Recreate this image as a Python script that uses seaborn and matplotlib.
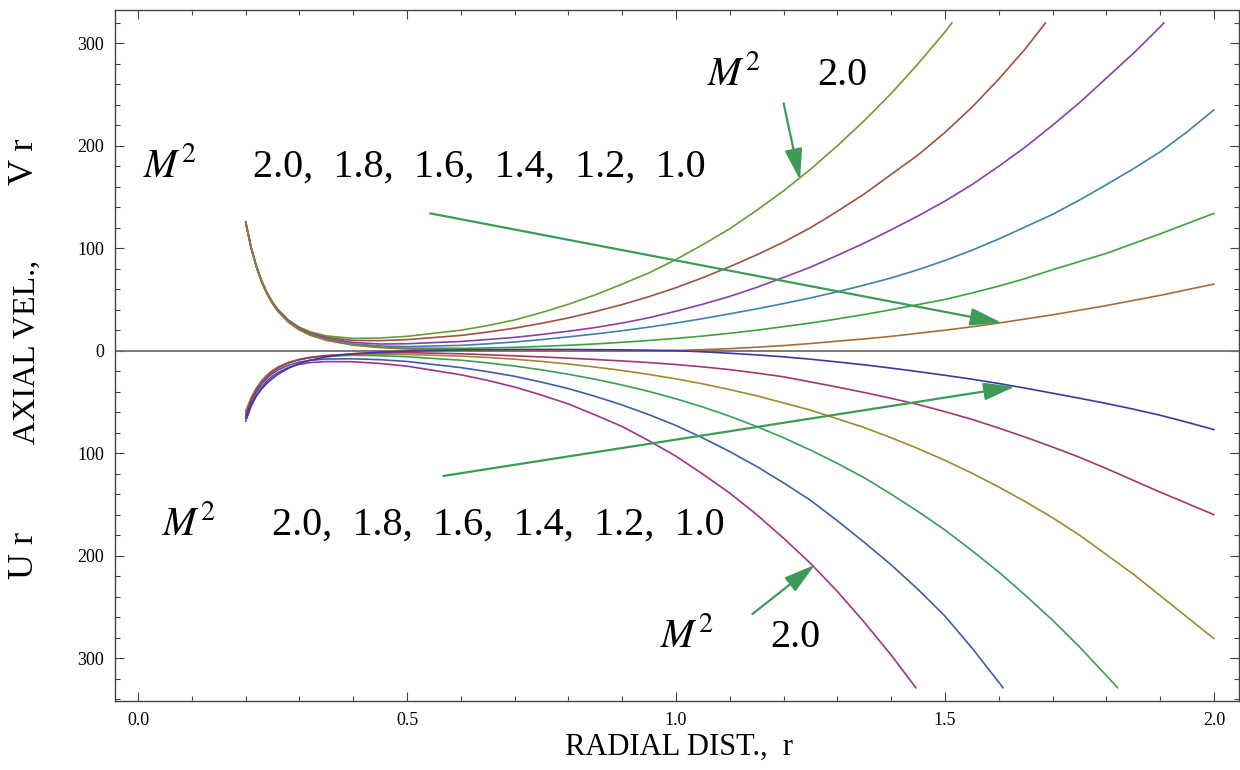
import matplotlib
matplotlib.use('Agg')
import numpy as np
import pandas as pd
import matplotlib.pyplot as plt
import seaborn as sns
from matplotlib.ticker import MultipleLocator

R = [0.20, 0.21, 0.22, 0.23, 0.24, 0.25, 0.26, 0.28, 0.30, 0.32, 0.35, 0.40, 0.45,
     0.50, 0.60, 0.65, 0.70, 0.75, 0.80, 0.85, 0.90, 0.95, 1.00, 1.05, 1.10, 1.15,
     1.20, 1.25, 1.30, 1.35, 1.40, 1.45, 1.50, 1.55, 1.60, 1.65, 1.70, 1.75, 1.80,
     1.85, 1.90, 1.95, 2.00]

# axial velocity V r (upper family), M^2 = 2.0 ... 1.0
v_20 = [126, 101.4, 82.6, 67.9, 56.5, 47.5, 40.3, 29.8, 22.9, 18.4, 14.4, 12.0, 12.4, 14.0,
        20.0, 24.5, 30.0, 37.2, 45.3, 54.5, 65, 76, 89, 103.5, 119, 137, 156,
        177, 200, 224.5, 251, 280, 311]
v_18 = [125.7, 101.1, 82.2, 67.5, 56, 47, 39.7, 29.1, 22.1, 17.4, 13.1, 10.0, 9.8, 10.8,
        14.9, 18.2, 22, 26.7, 32, 38.2, 45, 52.8, 61.5, 71.3, 82, 93.5, 106,
        120, 136, 153, 172, 191, 213, 237.5, 265, 295]
v_16 = [125.5, 100.9, 81.9, 67.2, 55.6, 46.5, 39.2, 28.4, 21.2, 16.5, 11.9, 8.0, 6.5, 6.8,
        9.0, 10.9, 13, 15.8, 19, 22.6, 27, 32.2, 38.5, 45.4, 53, 61.8, 71.5,
        81.5, 93, 105, 118, 131.5, 146, 162, 180, 199, 220, 242, 266, 290, 316]
v_14 = [125, 100.6, 81.7, 67, 55.4, 46.2, 38.9, 28.1, 20.8, 15.9, 11.1, 6.7, 4.6, 4.0,
        5.2, 6.7, 8.5, 10.8, 13.5, 16.3, 19.5, 23, 27, 31.3, 36, 40.8, 46,
        51.5, 57.5, 64, 71, 79, 88, 98, 109, 121, 133, 147, 162, 177.5, 194, 213.5, 235]
v_12 = [125, 100.5, 81.5, 66.8, 55.2, 46, 38.6, 27.8, 20.4, 15.4, 10.4, 5.8, 3.5, 2.5,
        2.3, 2.7, 3.3, 4.2, 5.3, 6.6, 8.2, 10, 12, 14.3, 17, 20, 23.5,
        27, 31, 35.3, 40, 45, 50, 56.3, 63, 70.5, 79, 87, 95, 104.5, 114, 124, 134]
v_10 = [125, 100.4, 81.4, 66.6, 55, 45.8, 38.4, 27.5, 20.1, 15.1, 10.1, 5.4, 3.0, 1.7,
        0.5, 0.2, 0, -0.2, -0.3, -0.35, -0.3, -0.1, 0.2, 1.0, 2, 3.4, 5,
        7, 9.3, 11.5, 14, 17, 20, 23.3, 27, 31, 35, 39.5, 44, 49, 54, 59.5, 65]

# U r (lower family), M^2 = 2.0 ... 1.0
u_20 = [-69, -54.5, -43.7, -35.6, -29.5, -24.8, -21.2, -16.3, -13.3, -11.6, -10.6, -10.8,
        -12.5, -15.1,
        -23.5, -29, -35.5, -43.3, -52, -62.8, -74, -88, -103, -120.5, -139, -160, -183,
        -207.5, -235, -265, -297]
u_18 = [-64.3, -50.5, -40.3, -32.6, -26.8, -22.2, -18.7, -14.1, -11.1, -9.4, -8.1, -7.9,
        -8.8, -10.5,
        -16.5, -20.5, -25, -30.7, -37, -44.6, -53, -62.5, -73, -85.2, -98.5, -113, -129,
        -146, -166, -187, -209, -233, -259, -290, -323.5]
u_16 = [-59.8, -46.6, -36.8, -29.4, -23.9, -19.5, -16.2, -11.5, -8.6, -6.7, -5.2, -4.5,
        -4.9, -5.9,
        -9.3, -11.9, -15, -18.7, -23, -27.9, -33.5, -39.8, -47, -55, -64, -74, -85,
        -97, -110, -124, -140, -157, -175, -195, -216, -239, -263, -289, -317]
u_14 = [-59, -46, -36.3, -29, -23.5, -19.3, -15.9, -11.3, -8.3, -6.4, -4.8, -3.6, -3.4, -3.7,
        -5.3, -6.6, -8.3, -10.5, -13, -16, -19.3, -23.2, -27.5, -32.4, -38, -44, -51,
        -58, -66.5, -75, -85, -95.5, -107, -119.5, -133, -147.5, -163, -180, -199, -218,
        -239, -260, -281]
u_12 = [-62, -48.1, -38, -30.5, -24.8, -20.3, -16.8, -11.9, -8.8, -6.7, -4.8, -3.0, -2.2, -1.9,
        -3.0, -4.0, -5.0, -6.1, -7.3, -8.6, -10.0, -11.6, -13.5, -15.8, -18.5, -21.8, -25.5,
        -30.5, -35.5, -40.8, -46.5, -52.5, -59.5, -67, -75.5, -84.5, -94, -104, -115,
        -126.5, -138, -149, -160]
u_10 = [-66, -53, -44, -37, -31.5, -27, -23, -17, -12.5, -9.3, -6, -3, -1.4, -0.4,
        0.8, 1.0, 1.2, 1.25, 1.2, 1.0, 0.8, 0.45, 0, -1.1, -2.5, -4.1, -6,
        -8.3, -11, -13.8, -17, -20.4, -24, -27.8, -32, -36.6, -41.5, -46.4, -51.5, -57,
        -63, -69.8, -77]

# where curves leave the plot range
ends = {'V 2.0': (1.513, 320), 'V 1.8': (1.687, 320), 'V 1.6': (1.907, 320),
        'U 2.0': (1.446, -329), 'U 1.8': (1.608, -329), 'U 1.6': (1.821, -329)}

series = {'V 2.0': v_20, 'V 1.8': v_18, 'V 1.6': v_16, 'V 1.4': v_14, 'V 1.2': v_12,
          'V 1.0': v_10, 'U 2.0': u_20, 'U 1.8': u_18, 'U 1.6': u_16, 'U 1.4': u_14,
          'U 1.2': u_12, 'U 1.0': u_10}

colors = {'V 2.0': '#66a032', 'V 1.8': '#a0523c', 'V 1.6': '#8b3fae', 'V 1.4': '#3f82aa',
          'V 1.2': '#3ca33c', 'V 1.0': '#a86e3a', 'U 2.0': '#a0348c', 'U 1.8': '#3c5fa8',
          'U 1.6': '#3a9e5a', 'U 1.4': '#a08a30', 'U 1.2': '#a3386e', 'U 1.0': '#3a3aa0'}

xticks = [0.0, 0.5, 1.0, 1.5, 2.0]
xticklabels = ['0.0', '0.5', '1.0', '1.5', '2.0']
yticks = [-300, -200, -100, 0, 100, 200, 300]
yticklabels = ['300', '200', '100', '0', '100', '200', '300']

rows = []
for name, vals in series.items():
    rr = R[:len(vals)]
    vv = list(vals)
    if name in ends:
        rr = rr + [ends[name][0]]
        vv = vv + [ends[name][1]]
    for a, b in zip(rr, vv):
        rows.append({'r': a, 'val': b, 'curve': name})
df = pd.DataFrame(rows)

sns.set_style('ticks')
plt.rcParams['font.family'] = ['Liberation Serif', 'DejaVu Serif']
plt.rcParams['mathtext.fontset'] = 'stix'
plt.rcParams['text.color'] = 'black'

fig = plt.figure(figsize=(12.4, 7.7), dpi=100)
ax = fig.add_axes([0.0927, 0.09, 0.9065, 0.897])

ax.axhline(0, color='#707070', lw=1.3, zorder=1)
sns.lineplot(data=df, x='r', y='val', hue='curve', palette=colors, estimator=None,
             sort=False, legend=False, lw=1.2, ax=ax, zorder=2)

ax.set_xlim(-0.043, 2.0465)
ax.set_ylim(-341.5, 332.4)
ax.set_xticks(xticks)
ax.set_xticklabels(xticklabels)
ax.set_yticks(yticks)
ax.set_yticklabels(yticklabels)
ax.xaxis.set_minor_locator(MultipleLocator(0.1))
ax.yaxis.set_minor_locator(MultipleLocator(20))
ax.set_xlabel('')
ax.set_ylabel('')
ax.tick_params(which='both', direction='in', top=True, right=True, color='#444444',
               width=0.8, labelsize=13, pad=8, labelcolor='black')
ax.tick_params(which='major', length=6.5)
ax.tick_params(which='minor', length=3.8)
for s in ax.spines.values():
    s.set_color('#444444')
    s.set_linewidth(1.0)

# annotations
fs = 29
ax.text(0.009, 169.5, r'$M^2$', fontsize=fs, ha='left', va='baseline')
ax.text(0.214, 169.5, '2.0,  1.8,  1.6,  1.4,  1.2,  1.0', fontsize=fs, ha='left', va='baseline')
ax.text(0.045, -179.8, r'$M^2$', fontsize=fs, ha='left', va='baseline')
ax.text(0.249, -179.8, '2.0,  1.8,  1.6,  1.4,  1.2,  1.0', fontsize=fs, ha='left', va='baseline')
ax.text(1.058, 259.2, r'$M^2$', fontsize=fs, ha='left', va='baseline')
ax.text(1.262, 259.2, '2.0', fontsize=fs, ha='left', va='baseline')
ax.text(0.970, -288.8, r'$M^2$', fontsize=fs, ha='left', va='baseline')
ax.text(1.175, -288.8, '2.0', fontsize=fs, ha='left', va='baseline')

arrow_green = '#3c9c57'
arrows = [((1.2, 241.4), (1.2305, 166.5)),
          ((0.543, 134.0), (1.605, 27.3)),
          ((0.5675, -122.2), (1.63, -35.1)),
          ((1.142, -256.9), (1.258, -209.0))]
for tail, tip in arrows:
    ax.annotate('', xy=tip, xytext=tail,
                arrowprops=dict(arrowstyle='-|>,head_length=1.6,head_width=0.45',
                                mutation_scale=12, color=arrow_green, lw=1.6,
                                shrinkA=0, shrinkB=0), zorder=5)

fig.text(0.020, 0.790, 'V r', rotation=90, ha='center', va='center', fontsize=26)
fig.text(0.022, 0.543, 'AXIAL VEL.,', rotation=90, ha='center', va='center', fontsize=23)
fig.text(0.020, 0.279, 'U r', rotation=90, ha='center', va='center', fontsize=26)
fig.text(0.5476, 0.030, 'RADIAL DIST.,  r', ha='center', va='center', fontsize=22)

fig.savefig('out.png', dpi=100)
